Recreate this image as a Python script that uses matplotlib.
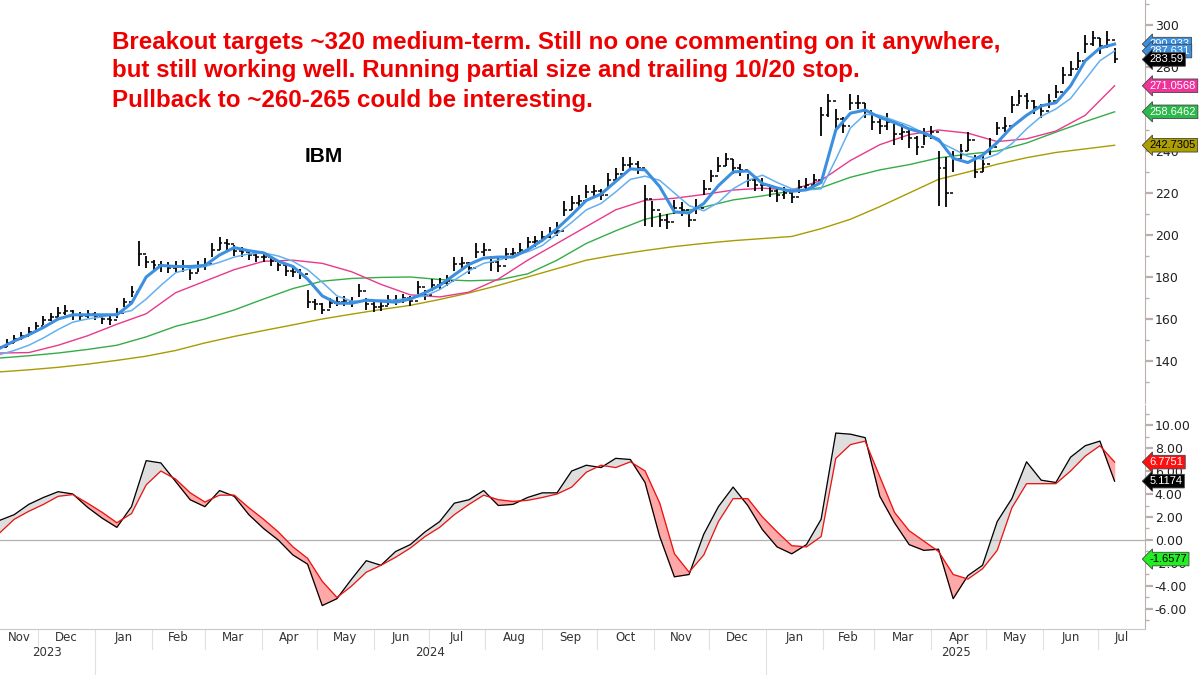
import pandas as pd
import matplotlib
matplotlib.use("Agg")
import matplotlib.pyplot as plt
import matplotlib.transforms as mtransforms

# ---- data ----
# price bars, one every 4 calendar days from 2023-11-10
bar_dates = pd.date_range("2023-11-10", "2025-07-10", freq="4D")
bar_close = [
    146.5, 148.5, 150.5, 152, 154, 156.5, 159.5, 161, 163, 164,
    162, 161.5, 162.5, 161.5, 160, 159.5, 163, 168, 173, 191,
    187, 185.5, 185, 184.5, 185, 185, 182, 185, 186, 193,
    196, 195.5, 192.5, 192, 190.5, 189.5, 189.5, 187.5, 185.5, 183,
    182.5, 181.5, 168, 167, 164.5, 167.5, 168, 168.5, 168, 173.5,
    167, 165.5, 166, 169, 169, 170, 168.5, 175, 171.5, 176,
    177, 178, 186, 186.5, 184.5, 192, 193, 187, 185, 191,
    191.5, 193, 196.5, 197, 199, 201, 202, 212, 215, 216,
    220.5, 221, 219, 226, 229, 233.5, 234, 232, 217, 212,
    207, 206, 213, 212, 207, 213, 222, 228, 233, 236,
    232, 231, 226, 224, 224, 221, 219, 220, 218, 223,
    224, 226, 257, 264, 255, 252, 263, 263, 259, 254,
    252, 254, 248, 249, 246, 242, 247, 249, 232, 220,
    236, 240, 245, 230, 234, 242, 251, 252, 262, 266,
    264, 261, 259, 264, 268, 276, 279, 283, 291, 294,
    290, 293, 283.59,
]
bar_high = [
    149, 150.5, 152.5, 154, 156, 158.5, 161.5, 163, 165.5, 166.5,
    164.5, 163.5, 164.5, 163.5, 162, 162, 165, 170, 175.5, 197,
    190, 188, 187.5, 187, 187.5, 188, 185, 187.5, 189, 196,
    199, 198, 195, 194.5, 193, 192, 192, 190, 188, 186,
    185, 184, 174, 169.5, 167.5, 170, 170.5, 171, 170.5, 176.5,
    170, 168, 168.5, 171.5, 171.5, 172, 171, 178, 174, 179,
    179.5, 181, 189.5, 189.5, 187, 196, 196, 190, 189.5, 194,
    194, 196, 199, 199.5, 202, 204, 206, 216, 218.5, 219,
    224, 224, 222, 229.5, 232, 237, 237, 235, 224, 216,
    210.5, 210, 216.5, 215.5, 211, 217, 226, 231, 237, 239,
    236, 234, 229, 227, 227, 224, 222, 223, 221, 226,
    227, 229, 261, 267, 260, 256, 267, 266.5, 263, 258,
    256, 258, 253, 253, 251, 247, 251, 252, 240, 237,
    240, 243.5, 249, 238, 238, 246, 254, 256, 266, 269,
    267.5, 264.5, 262.5, 267, 271.5, 280, 283, 287, 295, 297,
    294, 297, 289,
]
bar_low = [
    144.5, 146.5, 148.5, 150, 152, 154.5, 157, 159, 161, 162,
    159.5, 159.5, 160.5, 159.5, 157.5, 157, 160.5, 165.5, 170.5, 185,
    184.5, 183, 182.5, 182, 182.5, 182.5, 178.5, 182.5, 183.5, 189.5,
    193, 193, 190, 189.5, 188, 187, 187, 185, 183, 180.5,
    180, 179, 165, 164.5, 162.5, 165, 166, 166, 165.5, 170.5,
    164.5, 163.5, 164, 166.5, 166.5, 167.5, 166, 172, 169, 173.5,
    174.5, 175.5, 183, 184, 181.5, 189, 190, 183, 182.5, 188,
    189, 190.5, 193.5, 194.5, 196.5, 198.5, 199.5, 209, 212, 213,
    217.5, 218, 216.5, 223, 226, 230.5, 231, 229, 204.5, 204,
    204, 203, 210, 209, 204, 210, 219, 225, 230, 233,
    229, 228, 223, 221, 221, 218, 215.5, 217, 215, 220,
    221, 223, 247, 256, 250.5, 248.5, 259.5, 260, 255.5, 250,
    248, 250, 243, 245, 241.5, 238, 243, 245.5, 214, 213.5,
    230, 236, 240, 227, 230, 238, 247.5, 249, 258, 262.5,
    260, 257.5, 255.5, 260.5, 265, 272, 275.5, 279.5, 286.5, 290,
    286, 289, 282,
]

# short averages and oscillator, one value every 8 days
mid_dates = pd.date_range("2023-11-10", "2025-07-10", freq="8D")
ma10 = [
    146, 149.5, 152.5, 156, 160, 162, 162, 162, 162, 167.5,
    180, 185.5, 185, 185, 185.5, 190.5, 194, 192.5, 191.5, 187.5,
    185, 179, 171, 167.5, 167.5, 169, 168.5, 168, 169.5, 172.5,
    176, 181, 186, 189, 189.5, 189.5, 193, 197.5, 203, 209.5,
    216.5, 219.5, 225.5, 231.5, 231, 223, 211, 210.5, 215, 223.5,
    230, 230.5, 224.5, 222.4, 220.8, 221.5, 225, 250, 258, 259.5,
    256, 253.5, 250.5, 248.6, 245.5, 236.5, 234.5, 238, 244, 251.5,
    257, 261.5, 263, 271, 283, 289, 290.9,
]
ma20 = [
    143, 145, 147.5, 151, 155, 158.5, 160, 161, 162.5, 164,
    169.5, 176, 182, 184, 185, 187, 189.5, 191, 191.5, 190,
    187.5, 183.5, 177.5, 171, 168.5, 168.5, 169, 169, 170, 171,
    174, 178.5, 183, 186.5, 188, 190, 192, 195, 200.5, 206,
    212, 215, 220.5, 226.5, 228, 226, 220, 214, 211.5, 215.5,
    222, 226, 228.5, 225, 222, 221.4, 222, 236, 251, 257.5,
    257, 254.5, 252, 248.5, 244.5, 241, 237.5, 236, 238.5, 243.5,
    250.5, 256.5, 260, 265, 274, 283, 287.6,
]
macd_line = [
    1.7, 2.2, 3.1, 3.7, 4.2, 4.0, 2.85, 1.9, 1.1, 2.9,
    6.9, 6.7, 5.1, 3.5, 2.9, 4.3, 3.8, 2.2, 1.0, 0.0,
    -1.3, -2.1, -5.7, -5.1, -3.4, -1.8, -2.2, -1.0, -0.4, 0.7,
    1.6, 3.2, 3.5, 4.3, 3.0, 3.1, 3.7, 4.1, 4.1, 6.0,
    6.5, 6.3, 7.1, 7.0, 5.0, 0.3, -3.2, -3.0, 0.5, 2.9,
    4.6, 3.0, 0.9, -0.6, -1.2, -0.4, 1.8, 9.3, 9.2, 8.9,
    3.8, 1.5, -0.4, -0.9, -0.8, -5.1, -3.1, -2.2, 1.6, 3.6,
    6.8, 5.2, 5.0, 7.2, 8.2, 8.6, 5.1174,
]
signal_line = [
    0.6, 1.8, 2.5, 3.1, 3.8, 3.95, 3.2, 2.4, 1.5, 2.3,
    4.8, 6.0, 5.3, 4.1, 3.3, 3.9, 3.9, 2.8, 1.8, 0.7,
    -0.6, -1.6, -3.6, -5.0, -4.0, -2.8, -2.2, -1.5, -0.7, 0.3,
    1.1, 2.2, 3.1, 3.9, 3.5, 3.35, 3.45, 3.7, 4.0, 4.6,
    5.9, 6.5, 6.3, 6.8, 6.0, 3.2, -1.2, -2.8, -1.3, 1.6,
    3.6, 3.6, 2.0, 0.7, -0.5, -0.6, 0.3, 7.1, 8.3, 8.6,
    5.5, 2.4, 0.8, -0.1, -1.0, -3.0, -3.4, -2.5, -0.9, 2.8,
    4.9, 4.9, 4.9, 6.0, 7.3, 8.2, 6.7751,
]

# slow averages, one value every 16 days
slow_dates = pd.date_range("2023-11-10", "2025-07-10", freq="16D")
ma50 = [
    143.8, 144, 147.5, 152, 157.5, 162.5, 172.5, 178, 183.5, 187.5,
    188, 186.5, 182.5, 176.5, 171.5, 170.5, 172.8, 179, 188, 196,
    204, 212, 216.5, 217.5, 219.3, 221.4, 222.3, 221.4, 226, 235.5,
    243, 247.8, 250, 248.5, 244.5, 245.8, 249.5, 257, 271.06,
]
ma100 = [
    141.4, 142.5, 143.8, 145.5, 147.5, 151.5, 156.5, 160, 164.3, 169.5,
    174.5, 178, 179.3, 179.8, 180, 178.8, 178.2, 178.6, 181.5, 188,
    196, 202, 207.5, 210.5, 213.3, 216.7, 218.6, 221, 222.5, 227.5,
    231, 233.5, 236.7, 238.5, 240, 243.8, 249, 254, 258.65,
]
ma200 = [
    134.8, 135.8, 137, 138.5, 140.3, 142.3, 145, 148.6, 151.7, 154.5,
    157.2, 160, 162.3, 164.5, 166.5, 169.3, 172.4, 176, 180, 184,
    188, 190.5, 192.6, 194.5, 196, 197.3, 198.3, 199.3, 203, 207.5,
    213.5, 220, 226.5, 230, 233.7, 236.8, 239.3, 241, 242.73,
]

price_ticks = [140, 160, 180, 200, 220, 240, 260, 280, 300]
osc_ticks = [-6, -4, -2, 0, 2, 4, 6, 8, 10]
note_lines = [
    "Breakout targets ~320 medium-term. Still no one commenting on it anywhere,",
    "but still working well. Running partial size and trailing 10/20 stop.",
    "Pullback to ~260-265 could be interesting.",
]

# ---- figure ----
fig = plt.figure(figsize=(12, 6.75), dpi=100)
W, H = 1200, 675
ax = fig.add_axes([0, 272 / H, 1145 / W, 403 / H])
ax2 = fig.add_axes([0, 46 / H, 1145 / W, 224 / H], sharex=ax)

x0 = pd.Timestamp("2023-11-10 07:00")
x1 = pd.Timestamp("2025-07-26 14:00")
ax.set_xlim(x0, x1)
ax.set_ylim(120, 311.9)
ax2.set_ylim(-7.74, 11.74)

c_thick = "#3d8fe0"
c_thin = "#63b0f2"
c_pink = "#e8398c"
c_green = "#34ad47"
c_olive = "#a99b00"

ax.plot(slow_dates, ma200, color=c_olive, lw=1.0)
ax.plot(slow_dates, ma100, color=c_green, lw=1.0)
ax.plot(slow_dates, ma50, color=c_pink, lw=1.0)

# OHLC bars
tick = pd.Timedelta(days=1.6)
opens = [bar_close[0]] + bar_close[:-1]
ax.vlines(bar_dates, bar_low, bar_high, color="black", lw=1.3)
ax.hlines(opens, bar_dates - tick, bar_dates, color="black", lw=1.1)
ax.hlines(bar_close, bar_dates, bar_dates + tick, color="black", lw=1.1)

ax.plot(mid_dates, ma20, color=c_thin, lw=1.1)
ax.plot(mid_dates, ma10, color=c_thick, lw=2.2)

# oscillator
ax2.axhline(0, color="#b0b0b0", lw=0.9)
ax2.fill_between(mid_dates, macd_line, signal_line,
                 where=[m >= s for m, s in zip(macd_line, signal_line)],
                 interpolate=True, color="#dedede")
ax2.fill_between(mid_dates, macd_line, signal_line,
                 where=[m < s for m, s in zip(macd_line, signal_line)],
                 interpolate=True, color="#ffa8a8")
ax2.plot(mid_dates, macd_line, color="black", lw=0.9)
ax2.plot(mid_dates, signal_line, color="#ee1111", lw=0.9)

# axes styling
spine_c = "#bfaeae"
for a, ticks, fmt in ((ax, price_ticks, "{:.0f}"), (ax2, osc_ticks, "{:.2f}")):
    for s in ("top", "left", "bottom"):
        a.spines[s].set_visible(False)
    a.spines["right"].set_color(spine_c)
    a.yaxis.tick_right()
    a.set_yticks(ticks)
    a.set_yticklabels([fmt.format(t) for t in ticks])
    a.tick_params(axis="y", direction="out", length=6, width=1.6, colors=spine_c,
                  labelcolor="#222222", labelsize=9, pad=1)
    a.tick_params(axis="x", bottom=False, labelbottom=False)
ax.set_yticks([t + 10 for t in price_ticks] + [130], minor=True)
ax2.set_yticks([t + 1 for t in osc_ticks] + [-7], minor=True)
for a in (ax, ax2):
    a.tick_params(axis="y", which="minor", length=3, width=1, colors=spine_c)
ax2.spines["bottom"].set_visible(True)
ax2.spines["bottom"].set_color("#c8c8c8")

# month / year labels under the oscillator
trans = mtransforms.blended_transform_factory(ax2.transData, ax2.transAxes)
months = pd.date_range("2023-11-01", "2025-07-01", freq="MS")
for m in months:
    nxt = m + pd.offsets.MonthBegin(1)
    lo, hi = max(m, x0), min(nxt, x1)
    mid = lo + (hi - lo) / 2
    ax2.text(mid, -0.008, m.strftime("%b"), transform=trans, ha="center", va="top",
             fontsize=8.5, color="#333333")
    if m > x0:
        yend = -0.21 if m.month == 1 else -0.09
        ax2.plot([m, m], [0, yend], transform=trans, color="#e0e0e0", lw=0.8,
                 clip_on=False)
for yr in (2023, 2024, 2025):
    lo = max(pd.Timestamp(f"{yr}-01-01"), x0)
    hi = min(pd.Timestamp(f"{yr + 1}-01-01"), x1)
    ax2.text(lo + (hi - lo) / 2, -0.078, str(yr), transform=trans, ha="center",
             va="top", fontsize=8.5, color="#333333")


# value tags on the right edge
def tag(a, y, text, fc, tc):
    a.text(1.004, y, text, transform=a.get_yaxis_transform(), ha="left", va="center",
           fontsize=8, color=tc, zorder=10, family=["Liberation Sans", "DejaVu Sans"],
           bbox=dict(boxstyle="larrow,pad=0.16", fc=fc, ec="#444444", lw=0.6))


tag(ax, ma10[-1], "290.933", c_thick, "white")
tag(ax, ma20[-1], "287.631", c_thick, "white")
tag(ax, bar_close[-1], "283.59", "black", "white")
tag(ax, ma50[-1], "271.0568", "#ee3399", "white")
tag(ax, ma100[-1], "258.6462", "#2cb84a", "white")
tag(ax, ma200[-1], "242.7305", "#ad9f00", "black")
tag(ax2, signal_line[-1], "6.7751", "#ff1010", "white")
tag(ax2, macd_line[-1], "5.1174", "black", "white")
tag(ax2, -1.6577, "-1.6577", "#22ee22", "black")

# commentary
for i, line in enumerate(note_lines):
    fig.text(112 / W, 1 - (42 + 29 * i) / H, line, ha="left", va="center",
             fontsize=17.4, fontweight="bold", color="#ee0000",
             family=["Liberation Sans", "DejaVu Sans"])
fig.text(305 / W, 1 - 156 / H, "IBM", ha="left", va="center", fontsize=15,
         fontweight="bold", color="black", family=["Liberation Sans", "DejaVu Sans"])

fig.savefig("out.png", dpi=100)
